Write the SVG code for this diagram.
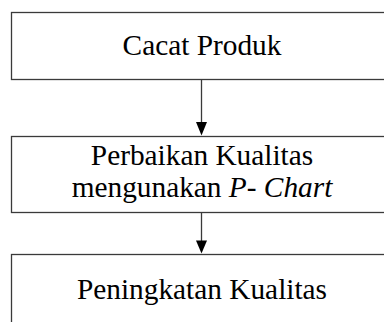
<svg xmlns="http://www.w3.org/2000/svg" width="384" height="322" viewBox="0 0 384 322">
<style>
.box{fill:#fff;stroke:#3a3a3a;stroke-width:1.3}
.t{font-family:"Liberation Serif","Times New Roman",serif;font-size:29.33px;fill:#000;text-anchor:middle}
.ln{stroke:#3a3a3a;stroke-width:1.3;fill:none}
.ah{fill:#000}
</style>
<rect width="384" height="322" fill="#fff"/>
<g id="node1">
<rect class="box" x="11.5" y="12.5" width="400" height="67"/>
<text class="t" x="202" y="54.5">Cacat Produk</text>
</g>
<g id="node2">
<rect class="box" x="11.5" y="136.5" width="400" height="76"/>
<text class="t" x="202" y="165">Perbaikan Kualitas</text>
<text class="t" x="202" y="197">mengunakan <tspan font-style="italic">P- Chart</tspan></text>
</g>
<g id="node3">
<rect class="box" x="11.5" y="254.5" width="400" height="80"/>
<text class="t" x="202" y="299">Peningkatan Kualitas</text>
</g>
<g id="connectors">
<line class="ln" x1="201.5" y1="80" x2="201.5" y2="123"/>
<polygon class="ah" points="196,122 207,122 201.5,135.5"/>
<line class="ln" x1="201.5" y1="213" x2="201.5" y2="241"/>
<polygon class="ah" points="196,240.5 207,240.5 201.5,253.5"/>
</g>
</svg>
